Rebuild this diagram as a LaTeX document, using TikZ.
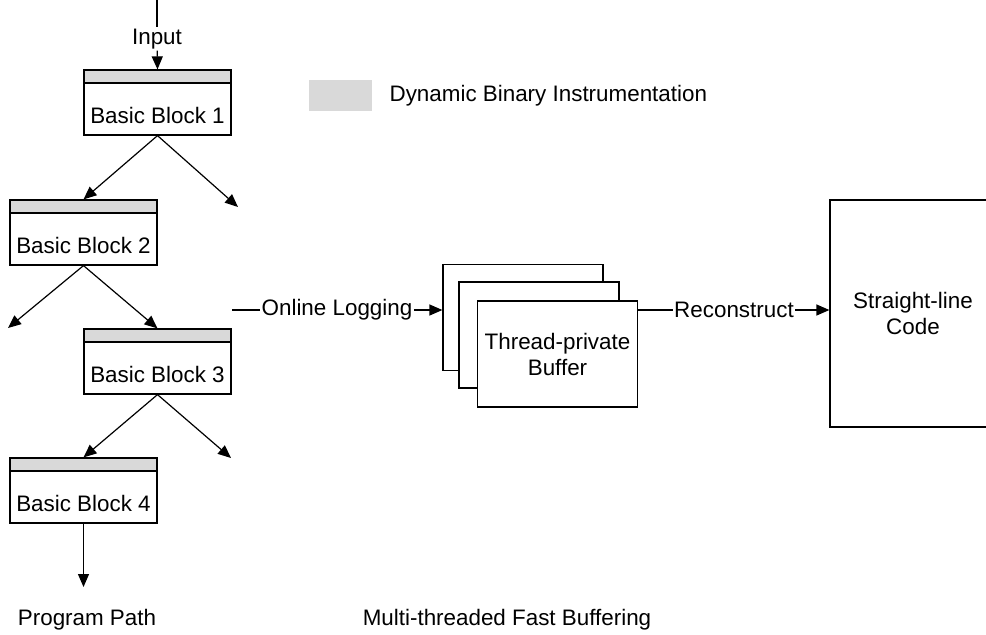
\documentclass[tikz,border=0pt]{standalone}
\usepackage{fontspec}
\setmainfont{Liberation Sans}
\usetikzlibrary{arrows.meta}

\begin{document}
\begin{tikzpicture}[x=1pt,y=-1pt,line width=1.2pt,
        every node/.style={font=\fontsize{22.4}{26}\selectfont},
        bblock/.style={draw,minimum width=147pt,minimum height=65pt,inner sep=0pt,%block with gray top bar
                path picture={\fill[gray!30] (path picture bounding box.north west) rectangle ([yshift=-13pt]path picture bounding box.north east);
                              \draw ([yshift=-13pt]path picture bounding box.north west) -- ([yshift=-13pt]path picture bounding box.north east);}},
        buf/.style={draw,fill=white,minimum width=160pt,minimum height=106pt,inner sep=0pt},
        arr/.style={-{Triangle[length=13pt,width=11pt]}},
        lbl/.style={inner sep=1pt}
        ]
\useasboundingbox (0,0) rectangle (986,635);

% program path
\coordinate (top) at (157,0);
\node[lbl] (input) at (157,39) {Input};
\node[bblock,label={[yshift=-13pt]center:Basic Block 1}] (bb1) at (157.5,102.5) {};
\node[bblock,label={[yshift=-13pt]center:Basic Block 2}] (bb2) at (83.5,232.5) {};
\node[bblock,label={[yshift=-13pt]center:Basic Block 3}] (bb3) at (157.5,361.5) {};
\node[bblock,label={[yshift=-13pt]center:Basic Block 4}] (bb4) at (83.5,490.5) {};
\coordinate (o1) at (238,207);
\coordinate (o2) at (8,328);
\coordinate (o3) at (231,458);
\coordinate (o4) at (83.5,587);

\draw (top) -- (input);
\draw[arr] (input) -- (bb1.north);
\draw[arr] (bb1.south) -- (bb2.north);
\draw[arr] (bb1.south) -- (o1);
\draw[arr] (bb2.south) -- (o2);
\draw[arr] (bb2.south) -- (bb3.north);
\draw[arr] (bb3.south) -- (bb4.north);
\draw[arr] (bb3.south) -- (o3);
\draw[arr] (bb4.south) -- (o4);

% legend
\node[fill=gray!30,minimum width=63pt,minimum height=31pt,inner sep=0pt] (key) at (340.5,95) {};
\node[anchor=west,inner sep=0pt] (keytext) at (389,96) {Dynamic Binary Instrumentation};

% buffering
\node[buf] (buf1) at (523,317.5) {};
\node[buf] (buf2) at (539,335) {};
\node[buf,align=center] (buf3) at (557.5,354) {Thread-private\\Buffer};
\node[draw,minimum width=166pt,minimum height=227pt,align=center] (code) at (913,313.5) {Straight-line\\Code};

\coordinate (logstart) at (232,310);
\node[lbl] (log) at (337,310) {Online Logging};
\node[lbl] (rec) at (734,310) {Reconstruct};
\draw (logstart) -- (log);
\draw[arr] (log) -- (log -| buf1.west);
\draw (rec -| buf3.east) -- (rec);
\draw[arr] (rec) -- (rec -| code.west);

% captions
\node (cap1) at (87,620) {Program Path};
\node (cap2) at (507,620) {Multi-threaded Fast Buffering};
\end{tikzpicture}
\end{document}
